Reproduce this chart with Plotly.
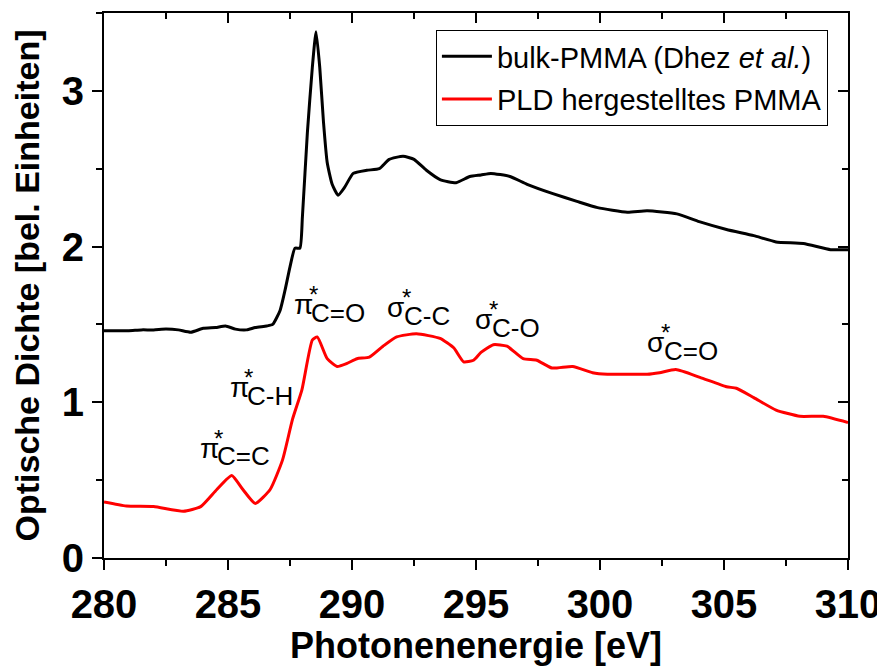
import plotly.graph_objects as go

# ---- data ----
bulk_x = [280.0, 280.5, 281.0, 281.5, 282.0, 282.5, 283.0, 283.5, 284.0, 284.5, 284.9, 285.3,
          285.75, 286.1, 286.56, 286.8, 287.1, 287.3, 287.5, 287.7, 287.9, 288.0, 288.2, 288.4,
          288.55, 288.7, 288.85, 289.0, 289.2, 289.44, 289.7, 290.05, 290.6, 291.1, 291.5,
          292.06, 292.5, 293.0, 293.55, 294.2, 294.75, 295.2, 295.6, 296.37, 297.06, 298.1,
          299.07, 299.9, 301.1, 301.9, 303.1, 304.0, 305.1, 306.2, 307.1, 308.2, 309.3, 310.0]
bulk_y = [1.46, 1.46, 1.46, 1.465, 1.465, 1.47, 1.465, 1.45, 1.475, 1.48, 1.49, 1.47,
          1.465, 1.48, 1.49, 1.50, 1.59, 1.72, 1.87, 1.99, 1.99, 2.19, 2.73, 3.15,
          3.38, 3.15, 2.80, 2.54, 2.40, 2.33, 2.38, 2.47, 2.49, 2.50, 2.56,
          2.58, 2.56, 2.49, 2.43, 2.41, 2.45, 2.46, 2.47, 2.45, 2.40, 2.34,
          2.29, 2.25, 2.22, 2.23, 2.21, 2.16, 2.11, 2.07, 2.03, 2.02, 1.98, 1.98]

pld_x = [280.0, 280.9, 282.0, 283.2, 283.9, 284.55, 285.15, 285.6, 286.1, 286.7, 287.2,
         287.6, 287.98, 288.4, 288.6, 289.0, 289.4, 289.8, 290.2, 290.7, 291.25, 291.8,
         292.6, 293.55, 294.1, 294.5, 294.9, 295.2, 295.7, 296.25, 296.9, 297.45, 298.06,
         298.9, 299.7, 300.3, 301.1, 301.9, 302.4, 303.06, 304.03, 305.1, 305.5, 306.2,
         307.1, 308.06, 309.0, 310.0]
pld_y = [0.36, 0.334, 0.33, 0.30, 0.33, 0.44, 0.53, 0.44, 0.35, 0.44, 0.63,
         0.89, 1.08, 1.40, 1.42, 1.28, 1.23, 1.25, 1.28, 1.29, 1.36, 1.42,
         1.44, 1.41, 1.35, 1.26, 1.27, 1.32, 1.37, 1.36, 1.28, 1.27, 1.22,
         1.23, 1.19, 1.18, 1.18, 1.18, 1.19, 1.21, 1.16, 1.10, 1.09, 1.03,
         0.95, 0.91, 0.91, 0.87]

label_greek = ["π", "π", "π", "σ", "σ", "σ"]
label_sub = ["C=C", "C-H", "C=O", "C-C", "C-O", "C=O"]
label_x = [283.77, 284.98, 287.60, 291.35, 294.86, 301.80]
label_y = [0.706, 1.092, 1.625, 1.606, 1.529, 1.381]

x_ticks = [280, 285, 290, 295, 300, 305, 310]
y_ticks = [0, 1, 2, 3]

names = ["bulk-PMMA (Dhez <i>et al.</i>)", "PLD hergestelltes PMMA"]

# ---- figure ----
SANS = "Liberation Sans, Arial, sans-serif"

fig = go.Figure()
fig.add_trace(go.Scatter(x=bulk_x, y=bulk_y, mode="lines", name=names[0],
                         line=dict(color="black", width=3, shape="spline", smoothing=0.5),
                         legendgroup="a"))
fig.add_trace(go.Scatter(x=pld_x, y=pld_y, mode="lines", name=names[1],
                         line=dict(color="#ff0000", width=3, shape="spline", smoothing=0.5),
                         legendgroup="b"))
# helper trace so the mirrored (inward-tick) axes are drawn
fig.add_trace(go.Scatter(x=[None], y=[None], xaxis="x2", yaxis="y2", showlegend=False,
                         hoverinfo="skip"))

anns = []
for g, s, lx, ly in zip(label_greek, label_sub, label_x, label_y):
    anns.append(dict(x=lx, y=ly, text=g, showarrow=False, xanchor="left", yanchor="middle",
                     font=dict(family=SANS, size=28, color="black")))
    anns.append(dict(x=lx, y=ly, text=s, showarrow=False, xanchor="left", yanchor="middle",
                     xshift=17, yshift=-8, font=dict(family=SANS, size=26, color="black")))
    anns.append(dict(x=lx, y=ly, text="*", showarrow=False, xanchor="center", yanchor="middle",
                     xshift=21, yshift=10, font=dict(family=SANS, size=24, color="black")))

axis_common = dict(showline=True, linecolor="black", linewidth=2, showgrid=False,
                   zeroline=False, automargin=False)

# the page body has an 8px margin, so the figure is sized/placed to compensate
fig.update_layout(
    width=877, height=658,
    margin=dict(l=96, r=37, t=5, b=108, autoexpand=False),
    paper_bgcolor="white", plot_bgcolor="white",
    showlegend=True,
    legend=dict(x=0.973, y=0.969, xanchor="right", yanchor="top",
                bordercolor="black", borderwidth=1, bgcolor="white",
                font=dict(family=SANS, size=29, color="black"),
                itemwidth=50, tracegroupgap=2, traceorder="grouped"),
    xaxis=dict(range=[280, 310], tickvals=x_ticks, ticks="outside", ticklen=10, tickwidth=2,
               tickcolor="black", ticklabeloverflow="allow", ticklabelstandoff=0,
               minor=dict(dtick=2.5, tick0=280, ticks="outside", ticklen=6, tickwidth=2,
                          tickcolor="black"),
               tickfont=dict(family=SANS, size=40, color="black", weight="bold"),
               title=dict(text="Photonenenergie [eV]", standoff=16,
                          font=dict(family=SANS, size=36, color="black", weight="bold")),
               **axis_common),
    yaxis=dict(range=[0, 3.5], tickvals=y_ticks, ticks="outside", ticklen=10, tickwidth=2,
               tickcolor="black", ticklabeloverflow="allow",
               minor=dict(dtick=0.5, tick0=0, ticks="outside", ticklen=6, tickwidth=2,
                          tickcolor="black"),
               tickfont=dict(family=SANS, size=40, color="black", weight="bold"),
               title=dict(text="Optische Dichte [bel. Einheiten]", standoff=14,
                          font=dict(family=SANS, size=34, color="black", weight="bold")),
               **axis_common),
    xaxis2=dict(range=[280, 310], overlaying="x", side="top", anchor="y2",
                tickvals=x_ticks, ticks="inside", ticklen=10, tickwidth=2, tickcolor="black",
                minor=dict(dtick=2.5, tick0=280, ticks="inside", ticklen=6, tickwidth=2,
                           tickcolor="black"),
                showticklabels=False, **axis_common),
    yaxis2=dict(range=[0, 3.5], overlaying="y", side="right", anchor="x2",
                tickvals=y_ticks, ticks="inside", ticklen=10, tickwidth=2, tickcolor="black",
                minor=dict(dtick=0.5, tick0=0, ticks="inside", ticklen=6, tickwidth=2,
                           tickcolor="black"),
                showticklabels=False, **axis_common),
    annotations=anns,
)

fig.write_html("out.html")
